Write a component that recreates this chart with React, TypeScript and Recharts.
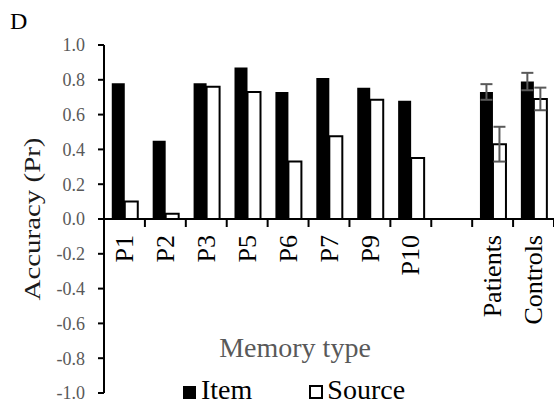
import React from "react";
import {
  BarChart,
  Bar,
  XAxis,
  YAxis,
  ReferenceLine,
  ErrorBar,
  Legend,
  Customized,
} from "recharts";

const categories = ["P1", "P2", "P3", "P5", "P6", "P7", "P9", "P10", "", "Patients", "Controls"];
const itemValues = [0.78, 0.45, 0.78, 0.87, 0.73, 0.81, 0.755, 0.68, null, 0.73, 0.79];
const sourceValues = [0.1, 0.03, 0.76, 0.73, 0.33, 0.475, 0.685, 0.35, null, 0.43, 0.69];
const itemErrors = [0, null, null, null, null, null, null, null, null, 0.045, 0.05];
const sourceErrors = [null, null, null, null, null, null, null, null, null, 0.1, 0.065];
const yTicks = [-1.0, -0.8, -0.6, -0.4, -0.2, 0.0, 0.2, 0.4, 0.6, 0.8, 1.0];

const data = categories.map((name, i) => ({
  name,
  item: itemValues[i],
  source: sourceValues[i],
  itemErr: itemErrors[i],
  sourceErr: sourceErrors[i],
}));

const FONT = "Liberation Serif, Times New Roman, serif";
const W = 554;
const H = 407;
const LEFT = 104;
const TOP = 45;
const BOTTOM = 393;
const ZERO_Y = (TOP + BOTTOM) / 2;
const BAND = (W - LEFT) / categories.length;

// category labels sit under the zero line, with tick marks on the band edges
const CategoryTick = (props: any) => {
  const { x, payload } = props;
  return (
    <g>
      <line
        x1={x + BAND / 2}
        x2={x + BAND / 2}
        y1={ZERO_Y}
        y2={ZERO_Y + 8}
        stroke="#000"
        strokeWidth={2}
      />
      <text
        transform={`translate(${x},${ZERO_Y + 16}) rotate(-90)`}
        textAnchor="end"
        dy="0.33em"
        fontFamily={FONT}
        fontSize={26}
        fill="#000"
      >
        {payload.value}
      </text>
    </g>
  );
};

const ValueTick = (props: any) => {
  const { x, y, payload } = props;
  return (
    <text x={x} y={y} dy="0.35em" textAnchor="end" fontFamily={FONT} fontSize={18} fill="#595959">
      {Number(payload.value).toFixed(1)}
    </text>
  );
};

const renderLegend = () => (
  <div
    style={{
      display: "flex",
      alignItems: "baseline",
      fontFamily: FONT,
      fontSize: 28,
      lineHeight: "28px",
      color: "#000",
      whiteSpace: "nowrap",
    }}
  >
    <span style={{ display: "inline-block", width: 13, height: 13, background: "#000", marginRight: 5 }} />
    <span style={{ marginRight: 57, fontFamily: FONT }}>Item</span>
    <span
      style={{
        display: "inline-block",
        width: 10,
        height: 10,
        background: "#fff",
        border: "2px solid #000",
        marginRight: 4,
      }}
    />
    <span style={{ fontFamily: FONT }}>Source</span>
  </div>
);

const Titles = () => (
  <g>
    <text x={10} y={29} fontFamily={FONT} fontSize={24} fill="#000">
      D
    </text>
    <text
      transform={`translate(40,${(TOP + BOTTOM) / 2}) rotate(-90)`}
      textAnchor="middle"
      fontFamily={FONT}
      fontSize={24}
      textLength={163}
      lengthAdjust="spacingAndGlyphs"
      fill="#1a1a1a"
    >
      Accuracy (Pr)
    </text>
    <text x={295} y={357} textAnchor="middle" fontFamily={FONT} fontSize={28} fill="#595959">
      Memory type
    </text>
  </g>
);

export default function App() {
  return (
    <div style={{ position: "absolute", left: 0, top: 0, fontFamily: FONT }}>
      <BarChart
        width={W}
        height={H}
        data={data}
        margin={{ top: TOP, right: 0, bottom: H - BOTTOM - 1, left: 0 }}
        barCategoryGap="19%"
        barGap={0}
      >
        <XAxis
          dataKey="name"
          height={1}
          axisLine={false}
          tickLine={false}
          interval={0}
          tick={<CategoryTick />}
        />
        <YAxis
          width={LEFT}
          domain={[-1, 1]}
          ticks={yTicks}
          interval={0}
          tick={<ValueTick />}
          tickSize={6}
          tickMargin={13}
          axisLine={{ stroke: "#000", strokeWidth: 2 }}
          tickLine={{ stroke: "#000", strokeWidth: 2 }}
        />
        <Bar dataKey="item" fill="#000" isAnimationActive={false}>
          <ErrorBar dataKey="itemErr" width={6} stroke="#595959" strokeWidth={2} direction="y" />
        </Bar>
        <Bar dataKey="source" fill="#fff" stroke="#000" strokeWidth={2} isAnimationActive={false}>
          <ErrorBar dataKey="sourceErr" width={6} stroke="#595959" strokeWidth={2} direction="y" />
        </Bar>
        <ReferenceLine y={0} stroke="#000" strokeWidth={2} />
        <Legend
          layout="horizontal"
          verticalAlign="middle"
          align="center"
          content={renderLegend}
          wrapperStyle={{ position: "absolute", left: 183, top: 376, width: "auto" }}
        />
        <Customized component={Titles} />
      </BarChart>
    </div>
  );
}
